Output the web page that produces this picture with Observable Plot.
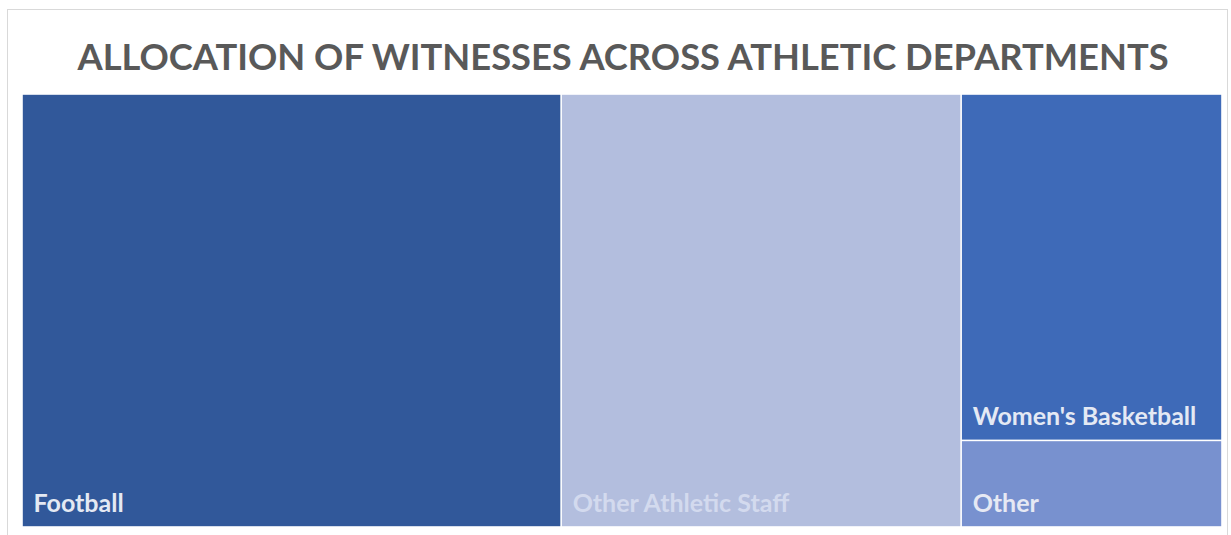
<!DOCTYPE html>
<html>
<head>
<meta charset="utf-8">
<script src="https://cdn.jsdelivr.net/npm/d3@7"></script>
<script src="https://cdn.jsdelivr.net/npm/@observablehq/plot@0.6"></script>
<style>
  html, body { margin: 0; padding: 0; background: #ffffff; width: 1231px; height: 535px; overflow: hidden; }
  #frame { position: absolute; left: 7px; top: 9px; width: 1221px; height: 600px; border: 1px solid #d9d9d9; box-sizing: border-box; pointer-events: none; }
  #title { position: absolute; left: 0; top: 0; width: 1231px; height: 94px; padding-left: 15px; box-sizing: border-box;
           text-align: center; font-family: Lato, sans-serif; font-weight: 700; font-size: 36.3px; color: #595959; line-height: 112px; white-space: nowrap; }
  #chart { position: absolute; left: 0; top: 94px; }
</style>
</head>
<body>
<div id="frame"></div>
<div id="title">ALLOCATION OF WITNESSES ACROSS ATHLETIC DEPARTMENTS</div>
<div id="chart"></div>
<script>
const categories = ["Football", "Other Athletic Staff", "Women's Basketball", "Other"];
const witnesses = [31, 23, 12, 3];
const fills = ["#31589a", "#b3bede", "#3e6ab8", "#7891cf"];
const labelColors = ["#e4e9f3", "#d3daee", "#e4e9f4", "#e6e9f4"];

const W = 1200, H = 433;
const root = d3.hierarchy({children: categories.map((name, i) => ({name, value: witnesses[i], i}))})
  .sum(d => d.value || 0);
d3.treemap().tile(d3.treemapSquarify).size([W, H]).round(false)(root);
const cells = root.leaves().map(n => ({name: n.data.name, i: n.data.i, x0: n.x0, x1: n.x1, y0: n.y0, y1: n.y1}));

const plot = Plot.plot({
  width: 1231,
  height: 441,
  margin: 0,
  x: {domain: [0, W], range: [22, 1222], axis: null},
  y: {domain: [0, H], range: [0, 433], axis: null},
  marks: [
    Plot.rect(cells, {x1: "x0", x2: "x1", y1: "y0", y2: "y1", fill: d => fills[d.i], inset: 0.8}),
    Plot.text(cells, {x: "x0", y: "y1", text: "name", dx: 11, dy: -16, textAnchor: "start", lineAnchor: "bottom",
      fill: d => labelColors[d.i], fontFamily: "Lato, sans-serif", fontWeight: 700, fontSize: 25})
  ]
});
document.getElementById("chart").appendChild(plot);
</script>
</body>
</html>
